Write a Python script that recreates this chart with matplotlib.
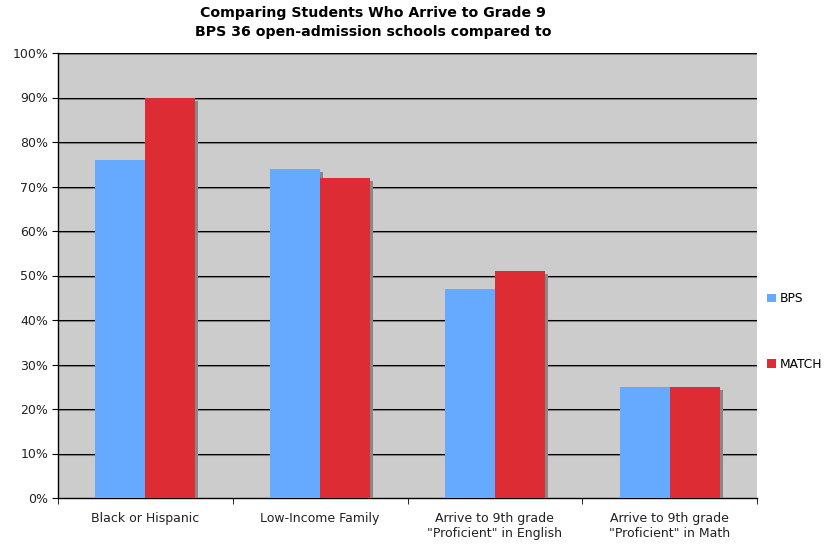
import matplotlib
matplotlib.use("Agg")
import matplotlib.pyplot as plt
import matplotlib.patheffects as pe
from matplotlib.patches import Patch
import numpy as np

categories = ["Black or Hispanic", "Low-Income Family",
              "Arrive to 9th grade\n\"Proficient\" in English",
              "Arrive to 9th grade\n\"Proficient\" in Math"]
bps = [76, 74, 47, 25]
match = [90, 72, 51, 25]
series_names = ["BPS", "MATCH"]
colors = ['#66aaff', '#dd2c33']
yticks = [0, 10, 20, 30, 40, 50, 60, 70, 80, 90, 100]
title_lines = ["Comparing Students Who Arrive to Grade 9",
               "BPS 36 open-admission schools compared to"]

plt.rcParams['font.family'] = ['DejaVu Sans']
fig = plt.figure(figsize=(8.25, 5.44), dpi=100)
ax = fig.add_axes([58/825, 1-498/544, (757-58)/825, (498-53)/544])
ax.set_facecolor('#cccccc')

x = np.arange(len(categories))
w = 0.286
shadow = [pe.SimplePatchShadow(offset=(2.2, -2.2), shadow_rgbFace='#888888', alpha=1), pe.Normal()]
ax.bar(x - w/2, bps, width=w, color=colors[0], zorder=3, path_effects=shadow)
ax.bar(x + w/2, match, width=w, color=colors[1], zorder=4, path_effects=shadow)

for t in yticks[1:]:
    ax.axhline(t, color='#000000', lw=0.75, zorder=2,
               path_effects=[pe.SimpleLineShadow(offset=(0, -0.75), shadow_color='#808080', alpha=1), pe.Normal()])

ax.set_xlim(-0.5, len(categories) - 0.5)
ax.set_ylim(0, 100)
ax.set_yticks(yticks)
ax.set_yticklabels([f"{t}%" for t in yticks], fontsize=9, color='#222222')
ax.set_xticks(x)
ax.set_xticklabels(categories, fontsize=9, color='#222222', linespacing=1.25)
ax.set_xticks(np.arange(len(categories) + 1) - 0.5, minor=True)
ax.tick_params(axis='x', which='major', length=0, pad=10)
ax.tick_params(axis='x', which='minor', length=4, direction='out')
ax.tick_params(axis='y', length=4, direction='out', pad=3)
for s in ['top', 'right']:
    ax.spines[s].set_visible(False)
for s in ['left', 'bottom']:
    ax.spines[s].set_color('black')
    ax.spines[s].set_linewidth(1)

handles = [Patch(facecolor=c, edgecolor='none') for c in colors]
ax.legend(handles, series_names, loc='center left', bbox_to_anchor=(1.0, 0.374), frameon=False,
          fontsize=8.8, labelspacing=4.3, handlelength=0.7, handleheight=0.7,
          handletextpad=0.35, borderaxespad=0.42)

fig.text(373/825, 1-13/544, title_lines[0], ha='center', va='center', fontsize=10.2, fontweight='bold')
fig.text(373/825, 1-32/544, title_lines[1], ha='center', va='center', fontsize=10.2, fontweight='bold')

fig.savefig("out.png", dpi=100)
